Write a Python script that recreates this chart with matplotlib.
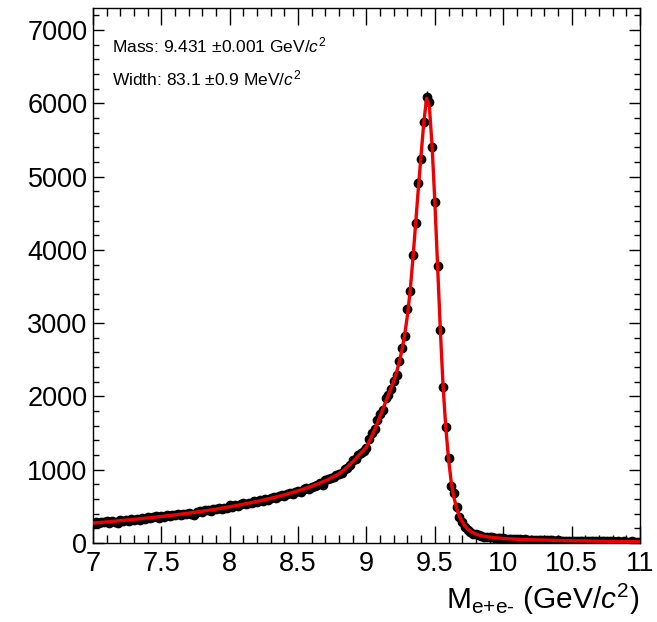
import numpy as np
import matplotlib
matplotlib.use('Agg')
import matplotlib.pyplot as plt
from matplotlib.ticker import MultipleLocator


plt.rcParams['font.family'] = 'Liberation Sans'
plt.rcParams['mathtext.fontset'] = 'custom'
plt.rcParams['mathtext.rm'] = 'Liberation Sans'
plt.rcParams['mathtext.it'] = 'Liberation Sans:italic'


# bin centres 7.00 ... 11.00, 0.02 GeV wide
mass = np.round(7.0 + 0.02 * np.arange(201), 2)

counts = [
    # 7.00 - 8.78
    262, 280, 271, 290, 283, 295, 279, 300, 292, 276,
    310, 298, 318, 305, 326, 320, 334, 315, 340, 332,
    350, 338, 355, 362, 348, 366, 358, 378, 370, 385,
    380, 396, 388, 402, 395, 410, 398, 384, 420, 432,
    428, 445, 450, 440, 462, 458, 475, 468, 482, 475,
    515, 498, 520, 505, 530, 545, 528, 548, 540, 568,
    560, 582, 575, 598, 590, 612, 622, 610, 640, 655,
    648, 672, 680, 668, 698, 712, 702, 735, 748, 740,
    770, 782, 795, 815, 790, 855, 872, 888, 905, 928,
    # 8.80 - 9.86
    948, 960, 1012, 1030, 1062, 1128, 1140, 1195, 1222, 1262,
    1292, 1420, 1500, 1560, 1678, 1760, 1814, 1974, 2019, 2097,
    2210, 2292, 2487, 2656, 2828, 3192, 3442, 3929, 4366, 4911,
    5239, 5744, 6089, 6016, 5402, 4652, 3779, 2906, 2132, 1587,
    1155, 782, 686, 487, 359, 290, 222, 177, 150, 128,
    118, 104, 95, 88,
    # 9.88 - 11.00
    84, 78, 80, 71, 70, 64,
    66, 58, 61, 55, 57, 50, 54, 47, 49, 44,
    47, 42, 45, 39, 41, 38, 42, 36, 37, 33,
    36, 31, 34, 30, 32, 29, 33, 27, 30, 26,
    28, 25, 29, 24, 26, 23, 27, 22, 24, 21,
    23, 20, 24, 19, 22, 20, 18, 21, 17, 19,
    18,
]

fit_mass = [
    7.0, 7.1, 7.2, 7.3, 7.4, 7.5, 7.6, 7.7, 7.8, 7.9,
    8.0, 8.1, 8.2, 8.3, 8.4, 8.5, 8.6, 8.7, 8.8,
    8.82, 8.84, 8.86, 8.88, 8.90, 8.92, 8.94, 8.96, 8.98, 9.00,
    9.02, 9.04, 9.06, 9.08, 9.10, 9.12, 9.14, 9.16, 9.18, 9.20,
    9.22, 9.24, 9.26, 9.28, 9.30, 9.32, 9.34, 9.36, 9.38, 9.40,
    9.42, 9.44, 9.46, 9.48, 9.50, 9.52, 9.54, 9.56, 9.58, 9.60,
    9.62, 9.64, 9.66, 9.68, 9.70, 9.72, 9.74, 9.76, 9.78, 9.80,
    9.82, 9.84, 9.86, 9.88, 9.90,
    10.0, 10.1, 10.2, 10.3, 10.4, 10.5, 10.6, 10.7, 10.8, 10.9, 11.0,
]
fit_counts = [
    272, 288, 305, 323, 342, 362, 384, 408, 434, 463,
    495, 530, 568, 610, 658, 712, 775, 850, 945,
    975, 1006, 1039, 1074, 1110, 1148, 1188, 1230, 1270, 1310,
    1385, 1465, 1550, 1640, 1735, 1830, 1925, 2020, 2115, 2215,
    2330, 2470, 2640, 2850, 3110, 3450, 3890, 4370, 4850, 5310,
    5750, 6070, 5960, 5420, 4660, 3790, 2920, 2150, 1580, 1150,
    830, 620, 470, 365, 290, 233, 192, 162, 140, 123,
    110, 100, 92, 86, 81,
    62, 52, 45, 40, 35, 31, 28, 25, 23, 21, 19,
]

mass_text = 'Mass: 9.431 $\\pm$0.001 GeV/$c^2$'
width_text = 'Width: 83.1 $\\pm$0.9 MeV/$c^2$'


fig = plt.figure(figsize=(6.57, 6.22), dpi=100)
ax = fig.add_axes([0.1416, 0.127, 0.8324, 0.86])

counts = np.array(counts)
ax.errorbar(mass, counts, yerr=np.sqrt(counts), fmt='o', color='black',
            ms=6, elinewidth=1, capsize=0, zorder=2)
ax.plot(fit_mass, fit_counts, color='#ee0000', lw=2.4, zorder=3)

ax.set_xlim(7, 11)
ax.set_ylim(0, 7300)
ax.xaxis.set_major_locator(MultipleLocator(0.5))
ax.xaxis.set_minor_locator(MultipleLocator(0.1))
ax.yaxis.set_major_locator(MultipleLocator(1000))
ax.yaxis.set_minor_locator(MultipleLocator(200))
ax.xaxis.set_major_formatter(lambda v, p: f'{v:g}')

ax.tick_params(which='both', direction='in', top=True, right=True,
               labelsize=19.5, width=1)
ax.tick_params(axis='x', which='major', length=12, pad=6)
ax.tick_params(axis='x', which='minor', length=6)
ax.tick_params(axis='y', which='major', length=8, pad=4)
ax.tick_params(axis='y', which='minor', length=4.5)
for s in ax.spines.values():
    s.set_linewidth(1)

ax.set_xlabel(r'M$_{\text{e+e-}}$ (GeV/$c^2$)', fontsize=21.5, loc='right',
              labelpad=3)

ax.text(0.035, 0.918, mass_text, transform=ax.transAxes, fontsize=12.5,
        va='baseline')
ax.text(0.035, 0.856, width_text, transform=ax.transAxes, fontsize=12.5,
        va='baseline')

fig.savefig('out.png', dpi=100)
